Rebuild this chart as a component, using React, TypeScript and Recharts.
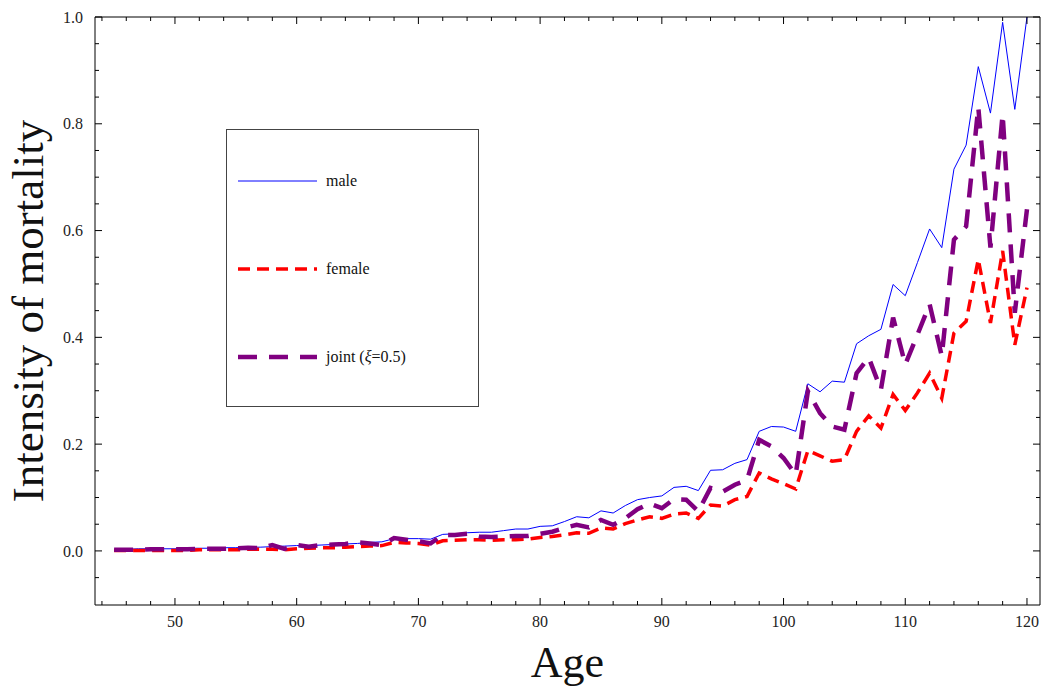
import { Legend, Line, LineChart, XAxis, YAxis } from 'recharts'

const ages = [
  45, 46, 47, 48, 49, 50, 51, 52, 53, 54, 55, 56, 57, 58, 59, 60, 61, 62, 63, 64, 65, 66, 67, 68,
  69, 70, 71, 72, 73, 74, 75, 76, 77, 78, 79, 80, 81, 82, 83, 84, 85, 86, 87, 88, 89, 90, 91, 92,
  93, 94, 95, 96, 97, 98, 99, 100, 101, 102, 103, 104, 105, 106, 107, 108, 109, 110, 111, 112,
  113, 114, 115, 116, 117, 118, 119, 120,
]

const maleRates = [
  0.003, 0.003, 0.004, 0.004, 0.004, 0.004, 0.005, 0.005, 0.005, 0.006,
  0.006, 0.007, 0.007, 0.008, 0.009, 0.01, 0.01, 0.011, 0.012, 0.013,
  0.014, 0.016, 0.017, 0.023, 0.023, 0.023, 0.022, 0.031, 0.032, 0.034,
  0.035, 0.035, 0.038, 0.041, 0.041, 0.046, 0.047, 0.055, 0.064, 0.062,
  0.075, 0.071, 0.085, 0.096, 0.1, 0.103, 0.119, 0.121, 0.113, 0.151,
  0.152, 0.164, 0.171, 0.224, 0.233, 0.232, 0.224, 0.313, 0.298, 0.318,
  0.316, 0.388, 0.403, 0.415, 0.499, 0.478, 0.54, 0.603, 0.568, 0.715,
  0.76, 0.907, 0.82, 0.99, 0.827, 1.0,
]

const femaleRates = [
  0.001, 0.001, 0.001, 0.001, 0.001, 0.001, 0.001, 0.002, 0.002, 0.002,
  0.002, 0.003, 0.003, 0.003, 0.002, 0.004, 0.005, 0.006, 0.006, 0.007,
  0.008, 0.009, 0.01, 0.016, 0.015, 0.014, 0.011, 0.019, 0.02, 0.021,
  0.021, 0.02, 0.021, 0.021, 0.022, 0.025, 0.027, 0.03, 0.034, 0.033,
  0.043, 0.041, 0.051, 0.058, 0.064, 0.061, 0.069, 0.071, 0.061, 0.086,
  0.084, 0.096, 0.102, 0.146, 0.135, 0.126, 0.116, 0.188, 0.178, 0.168,
  0.171, 0.224, 0.253, 0.23, 0.293, 0.263, 0.296, 0.333, 0.286, 0.408,
  0.43, 0.546, 0.427, 0.562, 0.386, 0.493,
]

const jointRates = [
  0.002, 0.002, 0.002, 0.003, 0.003, 0.003, 0.003, 0.004, 0.004, 0.004,
  0.005, 0.006, 0.005, 0.011, 0.004, 0.011, 0.008, 0.011, 0.012, 0.013,
  0.016, 0.014, 0.011, 0.024, 0.021, 0.018, 0.014, 0.03, 0.03, 0.032,
  0.027, 0.026, 0.027, 0.028, 0.028, 0.032, 0.036, 0.043, 0.049, 0.044,
  0.058, 0.049, 0.061, 0.078, 0.089, 0.08, 0.097, 0.096, 0.074, 0.118,
  0.111, 0.124, 0.133, 0.208, 0.196, 0.174, 0.143, 0.299, 0.258, 0.233,
  0.227, 0.333, 0.362, 0.302, 0.437, 0.349, 0.405, 0.462, 0.365, 0.583,
  0.608, 0.831, 0.568, 0.818, 0.446, 0.64,
]

const xTicks = [
  44, 46, 48, 50, 52, 54, 56, 58, 60, 62, 64, 66, 68, 70, 72, 74, 76, 78, 80, 82, 84, 86, 88, 90,
  92, 94, 96, 98, 100, 102, 104, 106, 108, 110, 112, 114, 116, 118, 120,
]

const yTicks = [
  -0.05, 0, 0.05, 0.1, 0.15, 0.2, 0.25, 0.3, 0.35, 0.4, 0.45, 0.5, 0.55, 0.6, 0.65, 0.7, 0.75,
  0.8, 0.85, 0.9, 0.95, 1.0,
]

const SERIES = [
  { key: 'male', name: 'male', color: '#0000ff', width: 1, dash: undefined as string | undefined },
  { key: 'female', name: 'female', color: '#ff0000', width: 3.5, dash: '12 7' },
  { key: 'joint', name: 'joint (ξ=0.5)', color: '#800080', width: 4.5, dash: '19 12' },
]

const data = ages.map((age, i) => ({
  age,
  male: maleRates[i],
  female: femaleRates[i],
  joint: jointRates[i],
}))

const FONT = "'Liberation Serif', 'Times New Roman', serif"
const INK = '#000000'

function isMajorX(v: number) {
  return v % 10 === 0
}

function isMajorY(v: number) {
  const n = Math.round(v * 100)
  return n % 20 === 0
}

function BottomTick(props: any) {
  const { x, y, payload } = props
  const major = isMajorX(payload.value)
  return (
    <g>
      <line x1={x} y1={y} x2={x} y2={y - (major ? 7 : 4)} stroke={INK} />
      {major ? (
        <text x={x} y={y + 22} textAnchor="middle" fontFamily={FONT} fontSize={16} fill="#222">
          {payload.value}
        </text>
      ) : null}
    </g>
  )
}

function TopTick(props: any) {
  const { x, y, payload } = props
  const major = isMajorX(payload.value)
  return <line x1={x} y1={y} x2={x} y2={y + (major ? 7 : 4)} stroke={INK} />
}

function LeftTick(props: any) {
  const { x, y, payload } = props
  const major = isMajorY(payload.value)
  return (
    <g>
      <line x1={x} y1={y} x2={x + (major ? 7 : 4)} y2={y} stroke={INK} />
      {major ? (
        <text x={x - 12} y={y} dy="0.35em" textAnchor="end" fontFamily={FONT} fontSize={16} fill="#222">
          {payload.value.toFixed(1)}
        </text>
      ) : null}
    </g>
  )
}

function RightTick(props: any) {
  const { x, y, payload } = props
  const major = isMajorY(payload.value)
  return <line x1={x} y1={y} x2={x - (major ? 7 : 4)} y2={y} stroke={INK} />
}

function renderName(name: string) {
  const parts = name.split('ξ')
  if (parts.length < 2) return name
  return (
    <>
      {parts[0]}
      <i>ξ</i>
      {parts[1]}
    </>
  )
}

function LegendBox() {
  return (
    <div
      style={{
        width: 253,
        height: 278,
        border: '1px solid #444',
        boxSizing: 'border-box',
        background: '#fff',
        position: 'relative',
        fontFamily: FONT,
        fontSize: 16,
        color: '#111',
      }}
    >
      {SERIES.map((s, i) => (
        <div
          key={s.key}
          style={{
            position: 'absolute',
            left: 11,
            top: 40 + i * 88,
            height: 22,
            display: 'flex',
            alignItems: 'center',
            whiteSpace: 'nowrap',
          }}
        >
          <svg width={80} height={10} style={{ display: 'block' }}>
            <line
              x1={0}
              y1={5}
              x2={79}
              y2={5}
              stroke={s.color}
              strokeWidth={s.width}
              strokeDasharray={s.dash}
            />
          </svg>
          <span style={{ marginLeft: 8 }}>{renderName(s.name)}</span>
        </div>
      ))}
    </div>
  )
}

export default function App() {
  return (
    <div style={{ position: 'absolute', left: 0, top: 0, width: 1042, height: 688, background: '#fff' }}>
      <LineChart width={1042} height={688} data={data} margin={{ top: 16, right: 1, bottom: 53, left: 35 }}>
        <XAxis
          xAxisId="bottom"
          type="number"
          dataKey="age"
          domain={[43.43, 121.07]}
          allowDataOverflow
          ticks={xTicks}
          interval={0}
          height={30}
          tickSize={0}
          tickMargin={0}
          tickLine={false}
          axisLine={{ stroke: INK }}
          tick={BottomTick}
          label={{
            content: (p: any) => {
              const vb = p.viewBox
              return (
                <text
                  x={vb.x + vb.width / 2}
                  y={vb.y + 72}
                  textAnchor="middle"
                  fontFamily={FONT}
                  fontSize={44}
                  fill="#111"
                >
                  Age
                </text>
              )
            },
          }}
        />
        <XAxis
          xAxisId="top"
          orientation="top"
          type="number"
          dataKey="age"
          domain={[43.43, 121.07]}
          allowDataOverflow
          ticks={xTicks}
          interval={0}
          height={1}
          tickSize={0}
          tickMargin={0}
          tickLine={false}
          axisLine={{ stroke: INK }}
          tick={TopTick}
        />
        <YAxis
          yAxisId="left"
          type="number"
          domain={[-0.1013, 1.0]}
          allowDataOverflow
          ticks={yTicks}
          interval={0}
          width={60}
          tickSize={0}
          tickMargin={0}
          tickLine={false}
          axisLine={{ stroke: INK }}
          tick={LeftTick}
          label={{
            content: (p: any) => {
              const vb = p.viewBox
              const cx = vb.x - 8
              const cy = vb.y + vb.height / 2
              return (
                <text
                  x={cx}
                  y={cy}
                  dy="0.35em"
                  transform={`rotate(-90 ${cx} ${cy})`}
                  textAnchor="middle"
                  fontFamily={FONT}
                  fontSize={45}
                  fill="#111"
                >
                  Intensity of mortality
                </text>
              )
            },
          }}
        />
        <YAxis
          yAxisId="right"
          orientation="right"
          type="number"
          domain={[-0.1013, 1.0]}
          allowDataOverflow
          ticks={yTicks}
          interval={0}
          width={1}
          tickSize={0}
          tickMargin={0}
          tickLine={false}
          axisLine={{ stroke: INK }}
          tick={RightTick}
        />
        <Legend
          layout="vertical"
          align="center"
          verticalAlign="middle"
          content={() => <LegendBox />}
          wrapperStyle={{ left: 226, top: 129, width: 253, height: 278 }}
        />
        {SERIES.map((s) => (
          <Line
            key={s.key}
            xAxisId="bottom"
            yAxisId="left"
            type="linear"
            dataKey={s.key}
            name={s.name}
            stroke={s.color}
            strokeWidth={s.width}
            strokeDasharray={s.dash}
            dot={false}
            activeDot={false}
            isAnimationActive={false}
          />
        ))}
      </LineChart>
    </div>
  )
}
